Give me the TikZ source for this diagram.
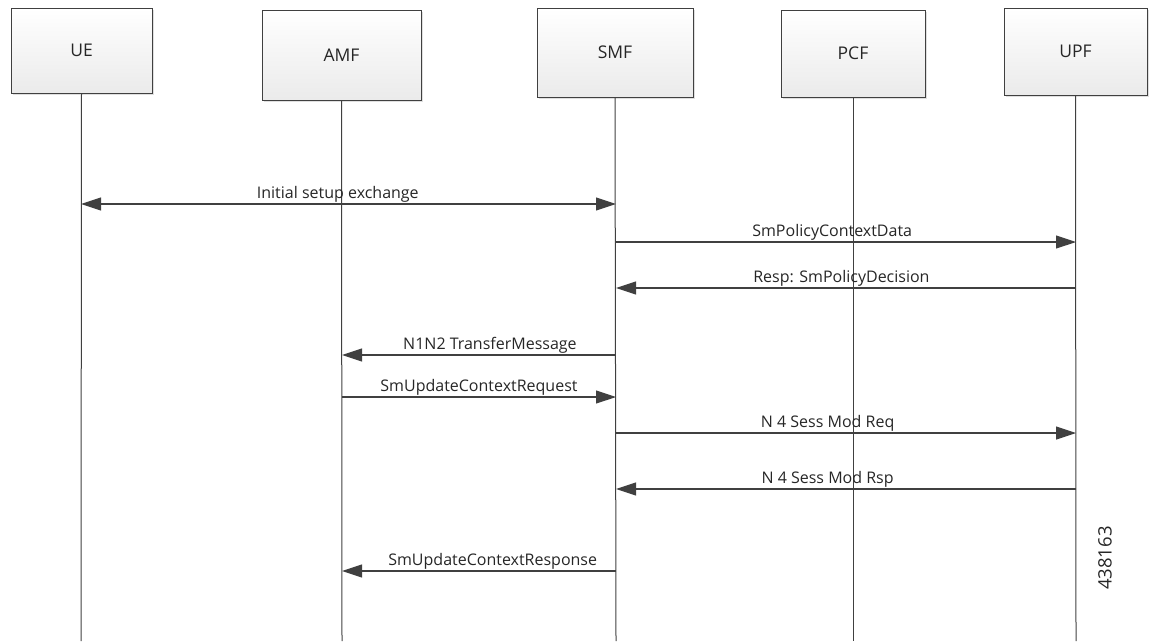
\documentclass[tikz,border=0pt]{standalone}
\usepackage{fontspec}
\setmainfont{Open Sans}
\usetikzlibrary{arrows.meta,shadows}
\begin{document}
\begin{tikzpicture}[x=1pt,y=-1pt,
  ent/.style={draw=black!75, line width=0.9pt, top color=white, bottom color=black!8,
    minimum width=#1, inner sep=0pt, font=\fontsize{17.5}{20}\selectfont, text=black!85,
    drop shadow={shadow xshift=1.5pt, shadow yshift=-1.5pt, opacity=0.25}},
  ent/.default=142pt,
  life/.style={draw=black!75, line width=1pt},
  msg/.style={draw=black!75, line width=1.1pt, -{Triangle[length=20pt,width=13pt]}},
  bimsg/.style={draw=black!75, line width=1.1pt, {Triangle[length=20pt,width=13pt]}-{Triangle[length=20pt,width=13pt]}},
  lbl/.style={font=\fontsize{16}{18}\selectfont, text=black!85, inner sep=1pt}
]
\useasboundingbox (0,0) rectangle (1150,641);

% entity boxes
\node[ent=141pt, minimum height=85pt] (UE)  at (81.5,50.5) {UE};
\node[ent=159pt, minimum height=90pt] (AMF) at (341.5,55) {AMF};
\node[ent=156pt, minimum height=89pt] (SMF) at (615,52.5) {SMF};
\node[ent=144pt, minimum height=87pt] (PCF) at (853,53.5) {PCF};
\node[ent=143pt, minimum height=87pt] (UPF) at (1075.5,51.5) {UPF};

% lifeline ends
\coordinate (UEe)  at (81,641);
\coordinate (AMFe) at (342,641);
\coordinate (SMFe) at (616,641);
\coordinate (PCFe) at (853,641);
\coordinate (UPFe) at (1076,641);
\draw[life] (UE.south)  -- (UEe);
\draw[life] (AMF.south) -- (AMFe);
\draw[life] (SMF.south) -- (SMFe);
\draw[life] (PCF.south) -- (PCFe);
\draw[life] (UPF.south) -- (UPFe);

% message anchors on lifelines
\coordinate (ue1)  at (81,204);   \coordinate (smf1) at (616,204);
\coordinate (smf2) at (616,242);  \coordinate (upf2) at (1076,242);
\coordinate (upf3) at (1076,288); \coordinate (smf3) at (616,288);
\coordinate (smf4) at (616,355);  \coordinate (amf4) at (342,355);
\coordinate (amf5) at (342,397);  \coordinate (smf5) at (616,397);
\coordinate (smf6) at (616,433);  \coordinate (upf6) at (1076,433);
\coordinate (upf7) at (1076,489); \coordinate (smf7) at (616,489);
\coordinate (smf8) at (616,571);  \coordinate (amf8) at (342,571);

\draw[bimsg] (ue1) -- node[lbl, above, pos=0.48] {Initial setup exchange} (smf1);
\draw[msg] (smf2) -- node[lbl, above, pos=0.47] {SmPolicyContextData} (upf2);
\draw[msg] (upf3) -- node[lbl, above, pos=0.51] {Resp: SmPolicyDecision} (smf3);
\draw[msg] (smf4) -- node[lbl, above, pos=0.46] {N1N2 TransferMessage} (amf4);
\draw[msg] (amf5) -- node[lbl, above, pos=0.5] {SmUpdateContextRequest} (smf5);
\draw[msg] (smf6) -- node[lbl, above, pos=0.46] {N 4 Sess Mod Req} (upf6);
\draw[msg] (upf7) -- node[lbl, above, pos=0.54] {N 4 Sess Mod Rsp} (smf7);
\draw[msg] (smf8) -- node[lbl, above, pos=0.45] {SmUpdateContextResponse} (amf8);

\node[lbl, rotate=90, font=\fontsize{18.5}{20}\selectfont] (id) at (1105,558) {438163};
\end{tikzpicture}
\end{document}
